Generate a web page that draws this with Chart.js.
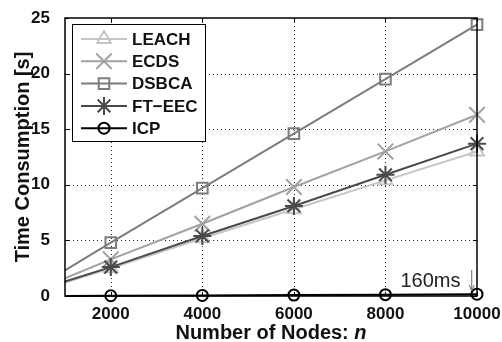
<!DOCTYPE html>
<html>
<head>
<meta charset="utf-8">
<script src="https://cdn.jsdelivr.net/npm/chart.js@4.4.1/dist/chart.umd.min.js"></script>
<style>
  html, body { margin: 0; padding: 0; background: #fff; }
</style>
</head>
<body>
<canvas id="timeChart" width="502" height="342"></canvas>
<script>
// number of nodes and run times (seconds) per protocol
const nodes = [1000, 2000, 4000, 6000, 8000, 10000];
const xTicks = [2000, 4000, 6000, 8000, 10000];
const yTicks = [0, 5, 10, 15, 20, 25];
const leach = [1.2, 2.5, 5.2, 7.8, 10.4, 13.0];
const ecds = [1.6, 3.3, 6.5, 9.8, 13.0, 16.3];
const dsbca = [2.3, 4.8, 9.7, 14.6, 19.5, 24.4];
const ftEec = [1.3, 2.6, 5.4, 8.1, 10.9, 13.7];
const icp = [0.01, 0.02, 0.05, 0.08, 0.12, 0.16];

const FONT = '"Liberation Sans", Arial, sans-serif';

// one line per protocol, no marker on the x=1000 start point
function series(label, values, color, style, radius, order) {
  return {
    label: label,
    data: values.map((v, i) => ({ x: nodes[i], y: v })),
    borderColor: color,
    borderWidth: 2,
    pointStyle: style,
    pointRadius: values.map((v, i) => i === 0 ? 0 : radius),
    pointBorderColor: color,
    pointBorderWidth: 2,
    pointBackgroundColor: 'rgba(0,0,0,0)',
    pointHoverRadius: 0,
    tension: 0,
    clip: false,
    order: order
  };
}

const datasets = [
  series('LEACH', leach, '#c6c6c6', 'triangle', 8, 4),
  series('ECDS', ecds, '#a2a2a2', 'crossRot', 11, 3),
  series('DSBCA', dsbca, '#7c7c7c', 'rect', 7.5, 2),
  series('FT\u2212EEC', ftEec, '#4a4a4a', 'star', 9, 1),
  series('ICP', icp, '#000000', 'circle', 5.5, 0)
];

// dotted grid, axes box with inward ticks, legend, titles and the ICP note
const decor = {
  id: 'decor',
  beforeDatasetsDraw(chart) {
    const { ctx, chartArea: a, scales: { x, y } } = chart;
    ctx.save();
    ctx.strokeStyle = '#222';
    ctx.lineWidth = 1;
    ctx.setLineDash([1, 3]);
    xTicks.forEach(v => {
      if (v === x.max) return;
      const px = Math.round(x.getPixelForValue(v)) + 0.5;
      ctx.beginPath(); ctx.moveTo(px, a.top); ctx.lineTo(px, a.bottom); ctx.stroke();
    });
    yTicks.forEach(v => {
      if (v === y.min || v === y.max) return;
      const py = Math.round(y.getPixelForValue(v)) + 0.5;
      ctx.beginPath(); ctx.moveTo(a.left, py); ctx.lineTo(a.right, py); ctx.stroke();
    });
    ctx.restore();
  },
  afterDatasetsDraw(chart) {
    const { ctx, chartArea: a, scales: { x, y } } = chart;
    ctx.save();

    // axes box
    ctx.strokeStyle = '#000';
    ctx.lineWidth = 1.5;
    ctx.strokeRect(a.left, a.top, a.right - a.left, a.bottom - a.top);

    // inward tick marks on all four sides
    ctx.lineWidth = 1;
    const tl = 4;
    xTicks.forEach(v => {
      const px = Math.round(x.getPixelForValue(v)) + 0.5;
      ctx.beginPath();
      ctx.moveTo(px, a.bottom); ctx.lineTo(px, a.bottom - tl);
      ctx.moveTo(px, a.top); ctx.lineTo(px, a.top + tl);
      ctx.stroke();
    });
    yTicks.forEach(v => {
      const py = Math.round(y.getPixelForValue(v)) + 0.5;
      ctx.beginPath();
      ctx.moveTo(a.left, py); ctx.lineTo(a.left + tl, py);
      ctx.moveTo(a.right, py); ctx.lineTo(a.right - tl, py);
      ctx.stroke();
    });

    // note on the ICP end value
    const last = icp[icp.length - 1];
    const ax = x.getPixelForValue(9885);
    ctx.strokeStyle = '#666';
    ctx.lineWidth = 1;
    ctx.beginPath();
    ctx.moveTo(ax, y.getPixelForValue(2.35));
    ctx.lineTo(ax, y.getPixelForValue(0.45));
    ctx.stroke();
    const tipY = y.getPixelForValue(0.45);
    ctx.beginPath();
    ctx.moveTo(ax - 2.5, tipY - 6);
    ctx.lineTo(ax, tipY);
    ctx.lineTo(ax + 2.5, tipY - 6);
    ctx.stroke();
    ctx.fillStyle = '#222';
    ctx.font = '20px ' + FONT;
    ctx.textAlign = 'right';
    ctx.textBaseline = 'alphabetic';
    ctx.fillText(Math.round(last * 1000) + 'ms', x.getPixelForValue(9640), y.getPixelForValue(0.85));

    // legend
    const lx = 72.5, ly = 24.5, lw = 133, lh = 117;
    ctx.fillStyle = '#fff';
    ctx.fillRect(lx, ly, lw, lh);
    ctx.strokeStyle = '#000';
    ctx.lineWidth = 1;
    ctx.strokeRect(lx, ly, lw, lh);
    ctx.font = 'bold 17px ' + FONT;
    ctx.textAlign = 'left';
    ctx.textBaseline = 'middle';
    datasets.forEach((ds, i) => {
      const cy = 39 + i * 22.3;
      ctx.strokeStyle = ds.borderColor;
      ctx.lineWidth = ds.borderWidth;
      ctx.beginPath(); ctx.moveTo(81, cy); ctx.lineTo(127, cy); ctx.stroke();
      ctx.fillStyle = 'rgba(0,0,0,0)';
      ctx.lineWidth = ds.pointBorderWidth;
      Chart.helpers.drawPoint(ctx, {
        pointStyle: ds.pointStyle,
        radius: ds.pointRadius[1],
        rotation: 0,
        borderWidth: ds.pointBorderWidth
      }, 104, cy);
      ctx.fillStyle = '#111';
      ctx.fillText(ds.label, 132, cy + 1);
    });

    // axis titles
    ctx.fillStyle = '#111';
    ctx.font = 'bold 20px ' + FONT;
    ctx.textBaseline = 'alphabetic';
    const head = 'Number of Nodes: ';
    const wHead = ctx.measureText(head).width;
    ctx.font = 'italic bold 20px ' + FONT;
    const wN = ctx.measureText('n').width;
    const tx = (a.left + a.right) / 2 - (wHead + wN) / 2;
    ctx.font = 'bold 20px ' + FONT;
    ctx.textAlign = 'left';
    ctx.fillText(head, tx, 339);
    ctx.font = 'italic bold 20px ' + FONT;
    ctx.fillText('n', tx + wHead, 339);

    ctx.save();
    ctx.translate(29, (a.top + a.bottom) / 2);
    ctx.rotate(-Math.PI / 2);
    ctx.font = 'bold 20px ' + FONT;
    ctx.textAlign = 'center';
    ctx.fillText('Time Consumption [s]', 0, 0);
    ctx.restore();

    ctx.restore();
  }
};

new Chart(document.getElementById('timeChart'), {
  type: 'line',
  data: { datasets: datasets },
  options: {
    responsive: false,
    animation: false,
    devicePixelRatio: 1,
    layout: { padding: { top: 18, right: 25, left: 0, bottom: 0 } },
    plugins: { legend: { display: false }, tooltip: { enabled: false } },
    scales: {
      x: {
        type: 'linear',
        min: 1000,
        max: 10000,
        afterBuildTicks: s => { s.ticks = xTicks.map(v => ({ value: v })); },
        afterFit: s => { s.height = 46; },
        grid: { display: false },
        border: { display: false },
        ticks: {
          color: '#111',
          padding: 0,
          maxRotation: 0,
          callback: v => String(v),
          font: { family: FONT, size: 17, weight: 'bold' }
        }
      },
      y: {
        type: 'linear',
        min: 0,
        max: 25,
        afterBuildTicks: s => { s.ticks = yTicks.map(v => ({ value: v })); },
        afterFit: s => { s.width = 65; },
        grid: { display: false },
        border: { display: false },
        ticks: {
          color: '#111',
          padding: 7,
          callback: v => String(v),
          font: { family: FONT, size: 17, weight: 'bold' }
        }
      }
    }
  },
  plugins: [decor]
});
</script>
</body>
</html>
